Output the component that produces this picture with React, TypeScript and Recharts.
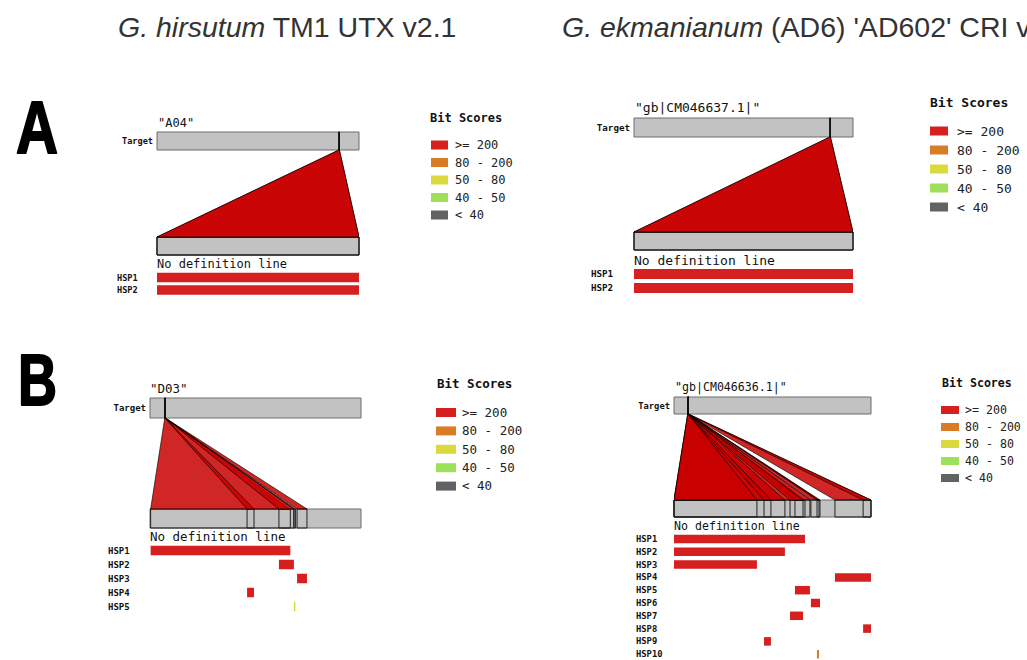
import React from 'react';
import { ScatterChart, Scatter, XAxis, YAxis, ReferenceArea } from 'recharts';

// ---------- shared legend ----------
const scoreBinLabels = ['>= 200', '80 - 200', '50 - 80', '40 - 50', '< 40'];
const scoreBinColors = ['#d61f1f', '#d97c26', '#dada3e', '#9fe05b', '#626262'];

// ---------- figure text ----------
const leftTitleItalic = 'G. hirsutum';
const leftTitleRest = ' TM1 UTX v2.1';
const rightTitleItalic = 'G. ekmanianum';
const rightTitleRest = " (AD6) 'AD602' CRI v1.0";
const panelLetters = ['A', 'B'];
const noDefinition = 'No definition line';

// ---------- panel A, left (positions in % of sequence length) ----------
const aLeftSubject = '"A04"';
const aLeftHsp = ['HSP1', 'HSP2'];
const aLeftQStart = [0, 0];
const aLeftQEnd = [100, 100];
const aLeftTStart = [90.0, 90.0];
const aLeftTEnd = [90.3, 90.3];
const aLeftBin = [0, 0];

// ---------- panel A, right ----------
const aRightSubject = '"gb|CM046637.1|"';
const aRightHsp = ['HSP1', 'HSP2'];
const aRightQStart = [0, 0];
const aRightQEnd = [100, 100];
const aRightTStart = [89.4, 89.4];
const aRightTEnd = [89.7, 89.7];
const aRightBin = [0, 0];

// ---------- panel B, left ----------
const bLeftSubject = '"D03"';
const bLeftHsp = ['HSP1', 'HSP2', 'HSP3', 'HSP4', 'HSP5'];
const bLeftQStart = [0.3, 61.1, 69.7, 46.0, 68.2];
const bLeftQEnd = [66.5, 68.2, 74.4, 49.3, 68.9];
const bLeftTStart = [7.0, 7.1, 7.1, 7.0, 7.1];
const bLeftTEnd = [7.2, 7.3, 7.3, 7.2, 7.3];
const bLeftBin = [0, 0, 0, 0, 2];

// ---------- panel B, right ----------
const bRightSubject = '"gb|CM046636.1|"';
const bRightHsp = ['HSP1', 'HSP2', 'HSP3', 'HSP4', 'HSP5', 'HSP6', 'HSP7', 'HSP8', 'HSP9', 'HSP10'];
const bRightQStart = [0, 0, 0, 81.7, 61.4, 69.5, 58.9, 96.0, 45.7, 72.6];
const bRightQEnd = [66.5, 56.3, 42.1, 100, 69.0, 74.1, 65.5, 100, 49.2, 73.6];
const bRightTStart = [7.0, 7.0, 7.0, 7.1, 7.1, 7.1, 7.0, 7.1, 7.0, 7.1];
const bRightTEnd = [7.2, 7.2, 7.2, 7.3, 7.3, 7.3, 7.2, 7.3, 7.2, 7.3];
const bRightBin = [0, 0, 0, 0, 0, 0, 0, 0, 0, 1];

type Legend = { x: number; titleY: number; size: number; boxX: number; boxW: number; boxH: number; row0: number; gap: number; textX: number };
type Layout = {
  x0: number; x1: number; top: number; bottom: number;
  titleX: number; titleY: number; titleSize: number;
  tTop: number; tBot: number; qTop: number; qBot: number;
  noDefY: number; noDefSize: number;
  hspY0: number; hspGap: number; hspH: number;
  labelX: number; labelSize: number;
  legend: Legend;
};

const layAL: Layout = {
  x0: 157, x1: 359, top: 100, bottom: 305,
  titleX: 158, titleY: 127, titleSize: 12,
  tTop: 132, tBot: 150, qTop: 237, qBot: 255,
  noDefY: 268, noDefSize: 12,
  hspY0: 277.5, hspGap: 12.5, hspH: 9.5,
  labelX: 117, labelSize: 8.6,
  legend: { x: 430, titleY: 122, size: 12, boxX: 431, boxW: 17, boxH: 9, row0: 145, gap: 17.5, textX: 455 },
};
const layAR: Layout = {
  x0: 634, x1: 853, top: 90, bottom: 305,
  titleX: 635, titleY: 112, titleSize: 13,
  tTop: 118, tBot: 137, qTop: 232, qBot: 250,
  noDefY: 265, noDefSize: 13,
  hspY0: 274, hspGap: 14, hspH: 10,
  labelX: 591, labelSize: 9.2,
  legend: { x: 930, titleY: 107, size: 13, boxX: 930, boxW: 18, boxH: 9, row0: 131, gap: 19, textX: 957 },
};
const layBL: Layout = {
  x0: 150, x1: 361, top: 370, bottom: 620,
  titleX: 150, titleY: 393, titleSize: 12.5,
  tTop: 398, tBot: 418, qTop: 509, qBot: 528,
  noDefY: 541, noDefSize: 12.5,
  hspY0: 550.5, hspGap: 14, hspH: 9.5,
  labelX: 108, labelSize: 9,
  legend: { x: 437, titleY: 388, size: 12.5, boxX: 436, boxW: 20, boxH: 9, row0: 412.5, gap: 18.4, textX: 462 },
};
const layBR: Layout = {
  x0: 674, x1: 871, top: 370, bottom: 660,
  titleX: 675, titleY: 391, titleSize: 11.6,
  tTop: 397, tBot: 414, qTop: 500, qBot: 517,
  noDefY: 530, noDefSize: 11.6,
  hspY0: 539, hspGap: 12.8, hspH: 8.5,
  labelX: 636, labelSize: 8.8,
  legend: { x: 942, titleY: 387, size: 11.6, boxX: 941, boxW: 18, boxH: 8, row0: 410, gap: 17, textX: 965 },
};

const MONO = '"DejaVu Sans Mono", monospace';
const GRAY_FILL = '#c2c2c2';
const GRAY_STROKE = '#6c6c6c';
const POLY_FILL = '#c80000';

const NoDot = () => <g />;

type PanelProps = {
  lay: Layout; hsp: string[]; qs: number[]; qe: number[]; ts: number[]; te: number[]; bin: number[];
};

function AlignmentPanel({ lay, hsp, qs, qe, ts, te, bin }: PanelProps) {
  const left = lay.labelX - 6;
  const width = lay.x1 - left + 4;
  const height = lay.bottom - lay.top;
  const yAxisW = lay.x0 - left;
  const Y = (v: number) => v - lay.top;
  const rowY = hsp.map((_, i) => Y(lay.hspY0 + i * lay.hspGap));
  const targetY = Y((lay.tTop + lay.tBot) / 2);
  const ticks = [targetY, ...rowY];
  const labels = ['Target', ...hsp];

  const renderTick = (p: any) => {
    const v = p?.payload?.value;
    const idx = ticks.findIndex((t) => Math.abs(t - v) < 0.01);
    if (idx < 0) return <g />;
    const isTarget = idx === 0;
    const tx = isTarget ? lay.x0 - 4 - left : lay.labelX - left;
    return (
      <text x={tx} y={p.y} dy="0.35em" textAnchor={isTarget ? 'end' : 'start'}
        fontFamily={MONO} fontWeight="bold" fontSize={lay.labelSize} fill="#111">
        {labels[idx]}
      </text>
    );
  };

  return (
    <div style={{ position: 'absolute', left, top: lay.top }}>
      <ScatterChart width={width} height={height} margin={{ top: 0, right: 4, bottom: 0, left: 0 }}>
        <XAxis type="number" dataKey="x" domain={[0, 100]} hide allowDataOverflow />
        <YAxis type="number" dataKey="y" domain={[0, height]} reversed allowDataOverflow
          width={yAxisW} ticks={ticks} interval={0} tick={renderTick}
          axisLine={false} tickLine={false} />
        {/* target and query bars */}
        <ReferenceArea x1={0} x2={100} y1={Y(lay.tTop)} y2={Y(lay.tBot)} fill={GRAY_FILL} fillOpacity={1} stroke={GRAY_STROKE} strokeWidth={1} />
        <ReferenceArea x1={0} x2={100} y1={Y(lay.qTop)} y2={Y(lay.qBot)} fill={GRAY_FILL} fillOpacity={1} stroke={GRAY_STROKE} strokeWidth={1} />
        {/* hit outlines on target and query bars */}
        {hsp.map((h, i) => (
          <ReferenceArea key={'t' + h} x1={ts[i]} x2={te[i]} y1={Y(lay.tTop)} y2={Y(lay.tBot)} fill="none" stroke="#111" strokeWidth={1} />
        ))}
        {hsp.map((h, i) => (
          <ReferenceArea key={'q' + h} x1={qs[i]} x2={qe[i]} y1={Y(lay.qTop)} y2={Y(lay.qBot)} fill="none" stroke="#222" strokeWidth={1} />
        ))}
        {/* HSP bars */}
        {hsp.map((h, i) => (
          <ReferenceArea key={'b' + h} x1={qs[i]} x2={qe[i]} y1={rowY[i] - lay.hspH / 2} y2={rowY[i] + lay.hspH / 2}
            fill={scoreBinColors[bin[i]]} fillOpacity={1} stroke="none" />
        ))}
        {/* connecting polygons */}
        {hsp.map((h, i) => (
          <Scatter key={'p' + h}
            data={[
              { x: ts[i], y: Y(lay.tBot) },
              { x: te[i], y: Y(lay.tBot) },
              { x: qe[i], y: Y(lay.qTop) },
              { x: qs[i], y: Y(lay.qTop) },
              { x: ts[i], y: Y(lay.tBot) },
            ]}
            line={{ fill: POLY_FILL, fillOpacity: 0.85, stroke: '#000', strokeWidth: 0.7, strokeOpacity: 0.9 }}
            lineType="joint" lineJointType="linear"
            shape={NoDot} isAnimationActive={false} />
        ))}
      </ScatterChart>
    </div>
  );
}

function PanelTexts({ lay, subject }: { lay: Layout; subject: string }) {
  const lg = lay.legend;
  return (
    <g fontFamily={MONO} fill="#111">
      <text x={lay.titleX} y={lay.titleY} fontSize={lay.titleSize}>{subject}</text>
      <text x={lay.x0} y={lay.noDefY} fontSize={lay.noDefSize}>{noDefinition}</text>
      <text x={lg.x} y={lg.titleY} fontSize={lg.size} fontWeight="bold">Bit Scores</text>
      {scoreBinLabels.map((s, i) => (
        <g key={s}>
          <rect x={lg.boxX} y={lg.row0 + i * lg.gap - lg.boxH / 2} width={lg.boxW} height={lg.boxH} fill={scoreBinColors[i]} />
          <text x={lg.textX} y={lg.row0 + i * lg.gap} dy="0.35em" fontSize={lg.size} fill="#222">{s}</text>
        </g>
      ))}
    </g>
  );
}

export default function App() {
  return (
    <div style={{ position: 'absolute', left: 0, top: 0, width: 1027, height: 660, overflow: 'hidden', background: '#fff' }}>
      <AlignmentPanel lay={layAL} hsp={aLeftHsp} qs={aLeftQStart} qe={aLeftQEnd} ts={aLeftTStart} te={aLeftTEnd} bin={aLeftBin} />
      <AlignmentPanel lay={layAR} hsp={aRightHsp} qs={aRightQStart} qe={aRightQEnd} ts={aRightTStart} te={aRightTEnd} bin={aRightBin} />
      <AlignmentPanel lay={layBL} hsp={bLeftHsp} qs={bLeftQStart} qe={bLeftQEnd} ts={bLeftTStart} te={bLeftTEnd} bin={bLeftBin} />
      <AlignmentPanel lay={layBR} hsp={bRightHsp} qs={bRightQStart} qe={bRightQEnd} ts={bRightTStart} te={bRightTEnd} bin={bRightBin} />
      <svg width={1027} height={660} style={{ position: 'absolute', left: 0, top: 0, pointerEvents: 'none' }}>
        <text x={118} y={37} fontFamily='"Liberation Sans", Arial, sans-serif' fontSize={28.5} fill="#333">
          <tspan fontStyle="italic">{leftTitleItalic}</tspan>
          <tspan>{leftTitleRest}</tspan>
        </text>
        <text x={562} y={37} fontFamily='"Liberation Sans", Arial, sans-serif' fontSize={28.5} fill="#333">
          <tspan fontStyle="italic">{rightTitleItalic}</tspan>
          <tspan>{rightTitleRest}</tspan>
        </text>
        <text x={16} y={153} fontFamily='"Liberation Sans", Arial, sans-serif' fontWeight="bold" fontSize={74}
          textLength={42} lengthAdjust="spacingAndGlyphs" fill="#000" stroke="#000" strokeWidth={2} strokeLinejoin="round">{panelLetters[0]}</text>
        <text x={18} y={405} fontFamily='"Liberation Sans", Arial, sans-serif' fontWeight="bold" fontSize={73}
          textLength={39} lengthAdjust="spacingAndGlyphs" fill="#000" stroke="#000" strokeWidth={2} strokeLinejoin="round">{panelLetters[1]}</text>
        <PanelTexts lay={layAL} subject={aLeftSubject} />
        <PanelTexts lay={layAR} subject={aRightSubject} />
        <PanelTexts lay={layBL} subject={bLeftSubject} />
        <PanelTexts lay={layBR} subject={bRightSubject} />
      </svg>
    </div>
  );
}
